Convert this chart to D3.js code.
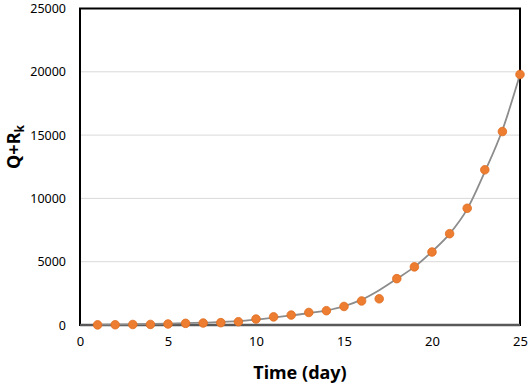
<!DOCTYPE html>
<html><head><meta charset="utf-8">
<script src="https://cdn.jsdelivr.net/npm/d3@7"></script>
<style>body{margin:0;background:#fff}</style>
</head><body>
<script>
const days = [1,2,3,4,5,6,7,8,9,10,11,12,13,14,15,16,17,18,19,20,21,22,23,24,25];
const values = [10,20,40,45,80,130,157,185,260,470,640,785,990,1130,1465,1900,2070,3660,4590,5765,7210,9220,12260,15280,19790];
const trendDays = [1,3,5,7,9,10,12,14,15,16,17,18,19,20,21,22,23,24,25];
const trendValues = [30,60,110,190,300,430,760,1150,1480,2000,2750,3650,4590,5800,7200,9150,12100,15400,19790];
const xTicks = [0,5,10,15,20,25];
const yTicks = [0,5000,10000,15000,20000,25000];
const gridTicks = [5000,10000,15000,20000];

const W=529,H=386;
const m={l:80,r:9,t:8.5,b:61};
const svg=d3.select("body").append("svg").attr("width",W).attr("height",H);
const x=d3.scaleLinear().domain([0,25]).range([m.l,W-m.r]);
const y=d3.scaleLinear().domain([0,25000]).range([H-m.b,m.t]);
const font="'Noto Sans', 'DejaVu Sans', sans-serif";

svg.append("g").selectAll("line").data(gridTicks).join("line")
  .attr("x1",x(0)).attr("x2",x(25)).attr("y1",d=>y(d)).attr("y2",d=>y(d))
  .attr("stroke","#d9d9d9").attr("stroke-width",1);

svg.append("rect").attr("x",x(0)).attr("y",y(25000)).attr("width",x(25)-x(0)).attr("height",y(0)-y(25000))
  .attr("fill","none").attr("stroke","#000").attr("stroke-width",2);
svg.append("line").attr("x1",x(0)).attr("x2",x(25)).attr("y1",y(0)).attr("y2",y(0))
  .attr("stroke","#595959").attr("stroke-width",2.5);

const yAxis=svg.append("g").attr("transform",`translate(${x(0)},0)`)
  .call(d3.axisLeft(y).tickValues(yTicks).tickSize(0).tickPadding(14).tickFormat(d3.format("d")));
yAxis.select(".domain").remove();
yAxis.selectAll("text").attr("font-family",font).attr("font-size",12.5).attr("fill","#000");

const xAxis=svg.append("g").attr("transform",`translate(0,${y(0)})`)
  .call(d3.axisBottom(x).tickValues(xTicks).tickSize(0).tickPadding(12).tickFormat(d3.format("d")));
xAxis.select(".domain").remove();
xAxis.selectAll("text").attr("font-family",font).attr("font-size",13).attr("fill","#000");

const line=d3.line().x((d,i)=>x(trendDays[i])).y(d=>y(d)).curve(d3.curveMonotoneX);
svg.append("path").datum(trendValues).attr("d",line).attr("fill","none")
  .attr("stroke","#8c8c8c").attr("stroke-width",1.8);

svg.append("g").selectAll("circle").data(values).join("circle")
  .attr("cx",(d,i)=>x(days[i])).attr("cy",d=>y(d)).attr("r",4.3)
  .attr("fill","#ED7D31").attr("stroke","#e06c1e").attr("stroke-width",0.8);

svg.append("text").attr("x",(x(0)+x(25))/2).attr("y",379)
  .attr("text-anchor","middle").attr("font-family",font).attr("font-weight","bold")
  .attr("font-size",18).attr("fill","#000").text("Time (day)");

const yl=svg.append("text").attr("transform",`translate(20,147) rotate(-90)`)
  .attr("text-anchor","middle").attr("font-family",font).attr("font-weight","bold")
  .attr("font-size",18).attr("fill","#000");
yl.append("tspan").text("Q+R");
yl.append("tspan").attr("font-size",12).attr("dy",4).text("k");
</script>
</body></html>
